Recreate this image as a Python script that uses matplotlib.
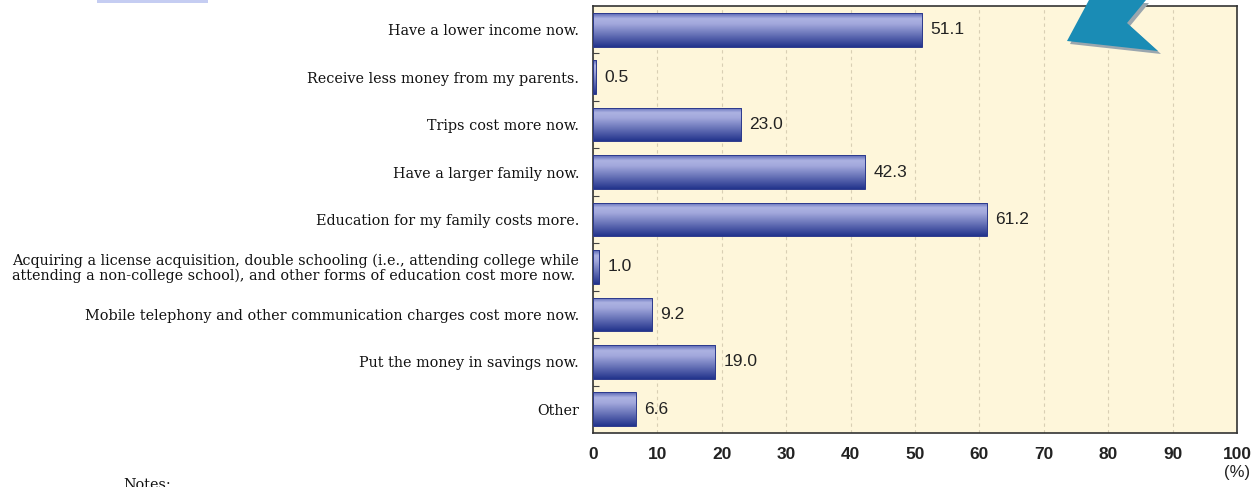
import numpy as np
import matplotlib.pyplot as plt
from matplotlib.colors import LinearSegmentedColormap
from matplotlib.patches import Polygon, Rectangle

categories = [
    'Have a lower income now.',
    'Receive less money from my parents.',
    'Trips cost more now.',
    'Have a larger family now.',
    'Education for my family costs more.',
    'Acquiring a license acquisition, double schooling (i.e., attending college while\n'
    'attending a non-college school), and other forms of education cost more now.',
    'Mobile telephony and other communication charges cost more now.',
    'Put the money in savings now.',
    'Other',
]
values = [51.1, 0.5, 23.0, 42.3, 61.2, 1.0, 9.2, 19.0, 6.6]
xticks = [0, 10, 20, 30, 40, 50, 60, 70, 80, 90, 100]

W, H = 1256, 487
fig = plt.figure(figsize=(W / 100, H / 100), dpi=100)
ax = fig.add_axes([593 / W, (H - 433) / H, (1237 - 593) / W, (433 - 6) / H])
ax.set_facecolor('#fef6da')

# bars with a vertical blue gradient
y = np.arange(len(categories))
bars = ax.barh(y, values, height=0.71, color='none', edgecolor='#2d3a8c',
               linewidth=0.7, zorder=3)
cmap = LinearSegmentedColormap.from_list(
    'bar', [(0.0, '#5663b2'), (0.16, '#acb2e2'), (0.32, '#a2a8dc'), (1.0, '#22338c')])
grad = np.linspace(0, 1, 256).reshape(-1, 1)
for bar in bars:
    x0, y0, w, h = bar.get_x(), bar.get_y(), bar.get_width(), bar.get_height()
    im = ax.imshow(grad, cmap=cmap, aspect='auto', origin='upper',
                   extent=(x0, x0 + w, y0 + h, y0), zorder=2)
    im.set_clip_path(bar)

for i, v in enumerate(values):
    ax.text(v + 1.3, i, f'{v:.1f}', va='center', ha='left', fontsize=12.5,
            family='Liberation Sans', color='#222222', zorder=4)

ax.set_xlim(0, 100)
ax.set_ylim(len(categories) - 0.5, -0.5)

# grid + ticks
ax.set_xticks(xticks)
ax.set_xticklabels([str(t) for t in xticks], fontsize=12.5, fontweight='bold',
                   family='Liberation Sans', color='#222222')
ax.tick_params(axis='x', length=0, pad=10)
ax.xaxis.grid(True, linestyle=(0, (3, 3)), color='#d9cfb4', linewidth=0.8)
ax.set_axisbelow(True)

ax.set_yticks(y)
ax.set_yticklabels(categories, fontsize=10.4, family='DejaVu Serif', color='#111111',
                   linespacing=1.0)
for lbl in ax.get_yticklabels():
    lbl.set_multialignment('left')
ax.set_yticks(y[:-1] + 0.5, minor=True)
ax.tick_params(axis='y', which='major', length=0, pad=10)
ax.tick_params(axis='y', which='minor', direction='in', length=4, width=0.8, color='#444444')

for s in ax.spines.values():
    s.set_color('#333333')
    s.set_linewidth(1.2)

fig.text(1250 / W, 1 - 473 / H, '(%)', ha='right', va='center', fontsize=12,
         family='Liberation Sans', color='#222222')
fig.text(123 / W, 1 - 478 / H, 'Notes:', ha='left', va='top', fontsize=10.4,
         family='DejaVu Serif', color='#111111')

# decorative pieces from the source page
fig.add_artist(Rectangle((97 / W, 1 - 3 / H), 111 / W, 3 / H, transform=fig.transFigure,
                         facecolor='#c5cdf2', edgecolor='none'))
arrow = [(1089, 0), (1146, 0), (1127, 23), (1158, 51), (1067, 41)]
shadow = Polygon([(x / W + 3 / W, 1 - (yy + 3) / H) for x, yy in arrow],
                 transform=fig.transFigure, facecolor='#9aa6ae', edgecolor='none', zorder=5)
head = Polygon([(x / W, 1 - yy / H) for x, yy in arrow],
               transform=fig.transFigure, facecolor='#1a8cb5', edgecolor='none', zorder=6)
fig.add_artist(shadow)
fig.add_artist(head)

fig.savefig('out.png', dpi=100)
